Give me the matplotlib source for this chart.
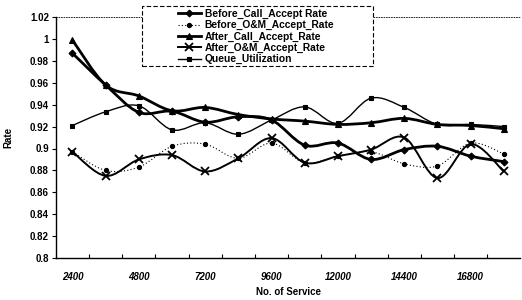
import matplotlib
matplotlib.use("Agg")
import matplotlib.pyplot as plt
import numpy as np
from matplotlib.path import Path
from matplotlib.patches import PathPatch, Rectangle
from matplotlib.lines import Line2D

services = [2400, 3600, 4800, 6000, 7200, 8400, 9600, 10800, 12000, 13200, 14400, 15600, 16800, 18000]
before_call = [0.987, 0.958, 0.933, 0.934, 0.924, 0.929, 0.926, 0.903, 0.905, 0.890, 0.899, 0.902, 0.893, 0.888]
before_om = [0.897, 0.880, 0.883, 0.902, 0.904, 0.891, 0.905, 0.887, 0.893, 0.897, 0.886, 0.884, 0.905, 0.895]
after_call = [0.999, 0.958, 0.948, 0.9345, 0.9375, 0.931, 0.927, 0.925, 0.922, 0.9235, 0.9275, 0.922, 0.921, 0.918]
after_om = [0.897, 0.875, 0.890, 0.894, 0.879, 0.891, 0.9095, 0.887, 0.893, 0.899, 0.910, 0.873, 0.904, 0.879]
queue_util = [0.921, 0.9335, 0.939, 0.917, 0.9235, 0.913, 0.926, 0.938, 0.923, 0.946, 0.9375, 0.922, 0.922, 0.920]

series_names = ["Before_Call_Accept Rate", "Before_O&M_Accept_Rate", "After_Call_Accept_Rate",
                "After_O&M_Accept_Rate", "Queue_Utilization"]
x_tick_labels = ["2400", "4800", "7200", "9600", "12000", "14400", "16800"]
y_ticks = [0.8, 0.82, 0.84, 0.86, 0.88, 0.9, 0.92, 0.94, 0.96, 0.98, 1.0, 1.02]
y_tick_labels = ["0.8", "0.82", "0.84", "0.86", "0.88", "0.9", "0.92", "0.94", "0.96", "0.98", "1", "1.02"]

plt.rcParams['font.family'] = ['Liberation Sans', 'DejaVu Sans']

fig = plt.figure(figsize=(5.22, 3.0), dpi=100)
ax = fig.add_axes([0.107, 0.14, 0.89, 0.803])


def smooth_path(xs, ys):
    P = np.column_stack([xs, ys]).astype(float)
    n = len(P)
    verts = [P[0]]
    codes = [Path.MOVETO]
    for i in range(n - 1):
        p0 = P[i - 1] if i > 0 else P[i]
        p1 = P[i]
        p2 = P[i + 1]
        p3 = P[i + 2] if i + 2 < n else P[i + 1]
        c1 = p1 + (p2 - p0) / 6.0
        c2 = p2 - (p3 - p1) / 6.0
        verts += [c1, c2, p2]
        codes += [Path.CURVE4] * 3
    return Path(verts, codes)


styles = [
    dict(data=before_call, lw=2.0, ls='-', marker='D', ms=3.5),
    dict(data=before_om, lw=0.8, ls=(0, (1, 2)), marker='o', ms=3.0),
    dict(data=after_call, lw=2.0, ls='-', marker='^', ms=4.5),
    dict(data=after_om, lw=1.4, ls='-', marker='x', ms=6.0),
    dict(data=queue_util, lw=1.0, ls='-', marker='s', ms=3.5),
]

handles = []
for name, st in zip(series_names, styles):
    patch = PathPatch(smooth_path(services, st['data']), facecolor='none', edgecolor='black',
                      lw=st['lw'], linestyle=st['ls'], zorder=2)
    ax.add_patch(patch)
    ax.plot(services, st['data'], linestyle='none', marker=st['marker'], ms=st['ms'],
            color='black', mew=1.3 if st['marker'] == 'x' else 0.8, zorder=3)
    handles.append(Line2D([], [], color='black', lw=st['lw'], linestyle=st['ls'],
                          marker=st['marker'], ms=st['ms'],
                          mew=1.3 if st['marker'] == 'x' else 0.8))

ax.set_xlim(1800, 18600)
ax.set_ylim(0.8, 1.02)
ax.set_yticks(y_ticks)
ax.set_yticklabels(y_tick_labels, fontsize=7, fontweight='bold')
ax.set_xticks(np.arange(3000, 18600, 1200))
ax.set_xticklabels([])
ax.set_xticks(services[::2], minor=True)
ax.set_xticklabels(x_tick_labels, minor=True, fontsize=7, fontweight='bold', style='italic')
ax.tick_params(axis='x', which='minor', length=0, pad=10)
ax.tick_params(axis='x', which='major', length=3, direction='in', width=0.8)
ax.tick_params(axis='y', length=3, direction='out', width=0.8, pad=2)

ax.spines['right'].set_visible(False)
ax.spines['top'].set_linestyle((0, (1, 2)))
ax.spines['top'].set_linewidth(0.6)
ax.spines['left'].set_linewidth(1.0)
ax.spines['bottom'].set_linewidth(1.0)

ax.set_ylabel("Rate", fontsize=7, fontweight='bold', labelpad=12)
ax.set_xlabel("No. of Service", fontsize=7, fontweight='bold', labelpad=4)

# legend box (dashed frame) drawn separately, entries placed inside
frame = Rectangle((142 / 522, 1 - 66 / 300), (373 - 142) / 522, 60 / 300,
                  transform=fig.transFigure, facecolor='white', edgecolor='black',
                  lw=0.8, linestyle=(0, (4, 2)), zorder=5)
fig.add_artist(frame)

leg = fig.legend(handles=handles, labels=series_names, loc='upper left',
                 bbox_to_anchor=(178 / 522, 1 - 9 / 300), frameon=False,
                 prop=dict(weight='bold', size=7.4), handlelength=2.2,
                 handletextpad=0.4, labelspacing=0.12, borderpad=0.0, borderaxespad=0)
leg.set_zorder(6)

fig.savefig("out.png", dpi=100, facecolor='white')
